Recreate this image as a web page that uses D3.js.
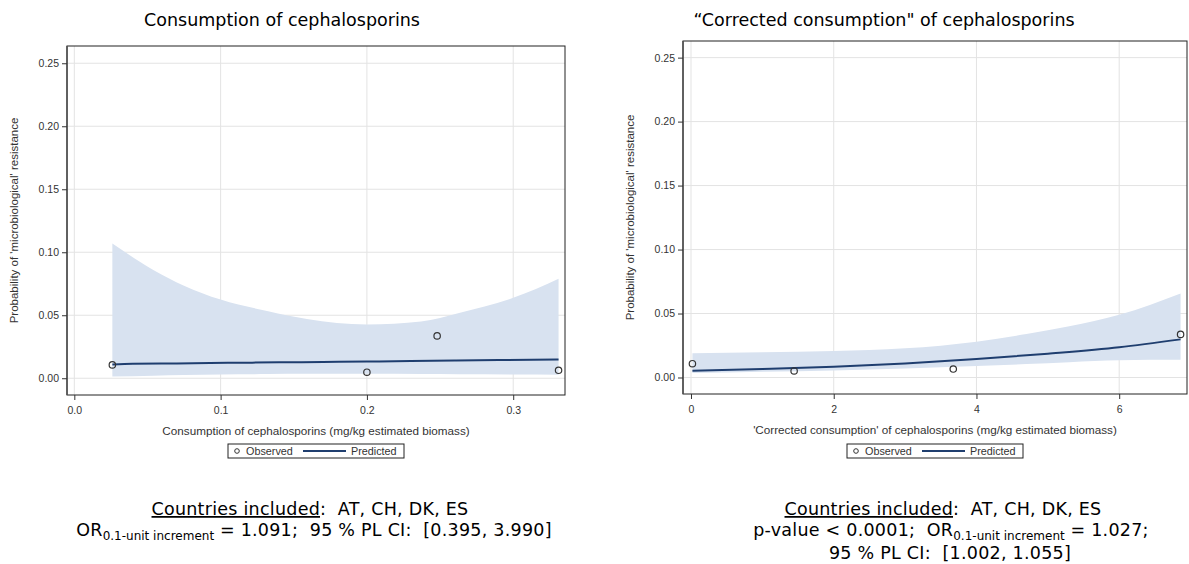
<!DOCTYPE html>
<html>
<head>
<meta charset="utf-8">
<script src="https://cdn.jsdelivr.net/npm/d3@7"></script>
<style>
  html, body { margin: 0; padding: 0; background: #fff; }
  svg { display: block; }
  text { white-space: pre; }
</style>
</head>
<body>
<svg id="chart" width="1189" height="564"></svg>
<script>
// ---- Panel 1: consumption ----
const consObsX = [0.026, 0.200, 0.248, 0.331];
const consObsY = [0.0106, 0.0048, 0.0336, 0.0063];
const consPredX = [0.026, 0.040, 0.070, 0.105, 0.140, 0.170, 0.200, 0.230, 0.260, 0.290, 0.331];
const consPredY = [0.0110, 0.0115, 0.0118, 0.0122, 0.0126, 0.0129, 0.0132, 0.0136, 0.0140, 0.0144, 0.0149];
const consBandX = [0.026, 0.054, 0.075, 0.100, 0.1325, 0.159, 0.200, 0.237, 0.263, 0.300, 0.331];
const consUpper = [0.107, 0.086, 0.0735, 0.0624, 0.0532, 0.047, 0.0426, 0.045, 0.0518, 0.0638, 0.079];
const consLower = [0.0013, 0.0020, 0.0025, 0.0030, 0.0033, 0.0035, 0.0035, 0.0034, 0.0032, 0.0030, 0.0028];
const consXTicks = [0, 0.1, 0.2, 0.3];

// ---- Panel 2: corrected consumption ----
const corrObsX = [0.02, 1.445, 3.675, 6.86];
const corrObsY = [0.0108, 0.0051, 0.0066, 0.0337];
const corrPredX = [0.02, 1, 2, 3, 4, 5, 6, 6.86];
const corrPredY = [0.0053, 0.0067, 0.0084, 0.0110, 0.0144, 0.0186, 0.0236, 0.0298];
const corrBandX = [0.02, 1, 2, 3, 4, 4.7, 5.3, 6, 6.86];
const corrUpper = [0.0189, 0.0197, 0.0207, 0.0228, 0.0280, 0.0340, 0.0400, 0.0490, 0.0657];
const corrLower = [0.0035, 0.0045, 0.0055, 0.0070, 0.0090, 0.0105, 0.0120, 0.0135, 0.0138];
const corrXTicks = [0, 2, 4, 6];

const yTicks = [0, 0.05, 0.10, 0.15, 0.20, 0.25];

const svg = d3.select("#chart");

const AX_FONT = "'Liberation Sans', Arial, sans-serif";
const TXT_FONT = "'DejaVu Sans', Verdana, sans-serif";
const NOTE_SIZE = "17.5px";

function drawPanel(p) {
  const g = svg.append("g");
  const x = d3.scaleLinear().domain(p.xDomain).range([p.left, p.right]);
  const y = d3.scaleLinear().domain(p.yDomain).range([p.bottom, p.top]);

  // grid
  g.append("g").selectAll("line").data(p.xTicks).join("line")
    .attr("x1", d => x(d)).attr("x2", d => x(d))
    .attr("y1", p.top).attr("y2", p.bottom)
    .attr("stroke", "#e3e3e3").attr("stroke-width", 1);
  g.append("g").selectAll("line").data(yTicks).join("line")
    .attr("x1", p.left).attr("x2", p.right)
    .attr("y1", d => y(d)).attr("y2", d => y(d))
    .attr("stroke", "#e3e3e3").attr("stroke-width", 1);

  // confidence band
  const band = p.bandX.map((v, i) => ({ x: v, lo: p.lower[i], hi: p.upper[i] }));
  g.append("path").datum(band)
    .attr("fill", "#d8e2f0")
    .attr("d", d3.area().x(d => x(d.x)).y0(d => y(d.lo)).y1(d => y(d.hi)).curve(d3.curveMonotoneX));

  // predicted line
  const pred = p.predX.map((v, i) => ({ x: v, y: p.predY[i] }));
  g.append("path").datum(pred)
    .attr("fill", "none").attr("stroke", "#1f3e6f").attr("stroke-width", 2)
    .attr("d", d3.line().x(d => x(d.x)).y(d => y(d.y)).curve(d3.curveMonotoneX));

  // observed points
  const obs = p.obsX.map((v, i) => ({ x: v, y: p.obsY[i] }));
  g.append("g").selectAll("circle").data(obs).join("circle")
    .attr("cx", d => x(d.x)).attr("cy", d => y(d.y)).attr("r", 3.2)
    .attr("fill", "none").attr("stroke", "#333").attr("stroke-width", 1.2);

  // frame
  g.append("rect")
    .attr("x", p.left).attr("y", p.top)
    .attr("width", p.right - p.left).attr("height", p.bottom - p.top)
    .attr("fill", "none").attr("stroke", "#222").attr("stroke-width", 1);
  g.append("line")
    .attr("x1", p.left).attr("x2", p.left).attr("y1", p.top).attr("y2", p.bottom)
    .attr("stroke", "#555").attr("stroke-width", 1.6);

  // axes
  const ax = g.append("g").attr("transform", `translate(0,${p.bottom})`)
    .call(d3.axisBottom(x).tickValues(p.xTicks).tickFormat(p.xFormat).tickSize(5).tickSizeOuter(0));
  const ay = g.append("g").attr("transform", `translate(${p.left},0)`)
    .call(d3.axisLeft(y).tickValues(yTicks).tickFormat(d3.format(".2f")).tickSize(5).tickSizeOuter(0));
  [ax, ay].forEach(a => {
    a.select(".domain").remove();
    a.selectAll(".tick line").attr("stroke", "#333");
    a.selectAll(".tick text").attr("fill", "#333")
      .style("font-family", AX_FONT).style("font-size", "10.5px");
  });
  ax.selectAll(".tick text").attr("dy", "1.05em");

  // axis titles
  g.append("text")
    .attr("x", (p.left + p.right) / 2).attr("y", p.bottom + 40)
    .attr("text-anchor", "middle").attr("fill", "#333")
    .style("font-family", AX_FONT).style("font-size", "11.7px")
    .text(p.xTitle);
  g.append("text")
    .attr("transform", `translate(${p.yTitleX},${(p.top + p.bottom) / 2}) rotate(-90)`)
    .attr("text-anchor", "middle").attr("fill", "#333")
    .style("font-family", AX_FONT).style("font-size", "11.5px")
    .text("Probability of 'microbiological' resistance");

  // chart title
  g.append("text")
    .attr("x", p.titleX).attr("y", 26)
    .attr("text-anchor", "middle").attr("fill", "#000")
    .style("font-family", TXT_FONT).style("font-size", "17.5px")
    .text(p.title);

  // legend
  const cx = (p.left + p.right) / 2;
  const lw = 176, lh = 14, ly = 444;
  const lg = g.append("g").attr("transform", `translate(${cx - lw / 2},${ly})`);
  lg.append("rect").attr("width", lw).attr("height", lh)
    .attr("fill", "#fff").attr("stroke", "#222").attr("stroke-width", 1);
  lg.append("circle").attr("cx", 9).attr("cy", lh / 2).attr("r", 2.3)
    .attr("fill", "none").attr("stroke", "#333").attr("stroke-width", 1);
  lg.append("text").attr("x", 18).attr("y", lh / 2 + 3.8).attr("fill", "#333")
    .style("font-family", AX_FONT).style("font-size", "10.8px").text("Observed");
  lg.append("line").attr("x1", 75).attr("x2", 118).attr("y1", lh / 2).attr("y2", lh / 2)
    .attr("stroke", "#1f3e6f").attr("stroke-width", 2);
  lg.append("text").attr("x", 123).attr("y", lh / 2 + 3.8).attr("fill", "#333")
    .style("font-family", AX_FONT).style("font-size", "10.8px").text("Predicted");

  // summary notes
  p.notes(g);
}

function noteText(g, cx, yy) {
  return g.append("text").attr("x", cx).attr("y", yy).attr("text-anchor", "middle")
    .attr("fill", "#000").style("font-family", TXT_FONT).style("font-size", NOTE_SIZE)
    .style("letter-spacing", "0.25px");
}

function countriesLine(g, cx, yy) {
  const t = noteText(g, cx, yy);
  t.append("tspan").attr("text-decoration", "underline").text("Countries included");
  t.append("tspan").text(":  AT, CH, DK, ES");
}

function orLine(g, cx, yy, prefix, rest) {
  const t = noteText(g, cx, yy);
  t.append("tspan").text(prefix + "OR");
  t.append("tspan").attr("dy", 4).style("font-size", "12px").style("letter-spacing", "0px")
    .text("0.1-unit increment");
  t.append("tspan").attr("dy", -4).text(rest);
}

drawPanel({
  left: 67, right: 565, top: 46, bottom: 395,
  xDomain: [-0.005, 0.3354], yDomain: [-0.0133, 0.2637],
  xTicks: consXTicks, xFormat: d3.format(".1f"),
  obsX: consObsX, obsY: consObsY, predX: consPredX, predY: consPredY,
  bandX: consBandX, upper: consUpper, lower: consLower,
  xTitle: "Consumption of cephalosporins (mg/kg estimated biomass)",
  yTitleX: 18,
  title: "Consumption of cephalosporins", titleX: 282,
  notes: g => {
    countriesLine(g, 310, 515);
    orLine(g, 314, 536, "", " = 1.091;  95 % PL CI:  [0.395, 3.990]");
  }
});

drawPanel({
  left: 683, right: 1187, top: 41, bottom: 394,
  xDomain: [-0.112, 6.95], yDomain: [-0.0129, 0.263],
  xTicks: corrXTicks, xFormat: d3.format("d"),
  obsX: corrObsX, obsY: corrObsY, predX: corrPredX, predY: corrPredY,
  bandX: corrBandX, upper: corrUpper, lower: corrLower,
  xTitle: "'Corrected consumption' of cephalosporins (mg/kg estimated biomass)",
  yTitleX: 634,
  title: "\u201cCorrected consumption\" of cephalosporins", titleX: 884,
  notes: g => {
    countriesLine(g, 943, 515);
    orLine(g, 951, 536, "p-value < 0.0001;  ", " = 1.027;");
    noteText(g, 950, 559).text("95 % PL CI:  [1.002, 1.055]");
  }
});
</script>
</body>
</html>
